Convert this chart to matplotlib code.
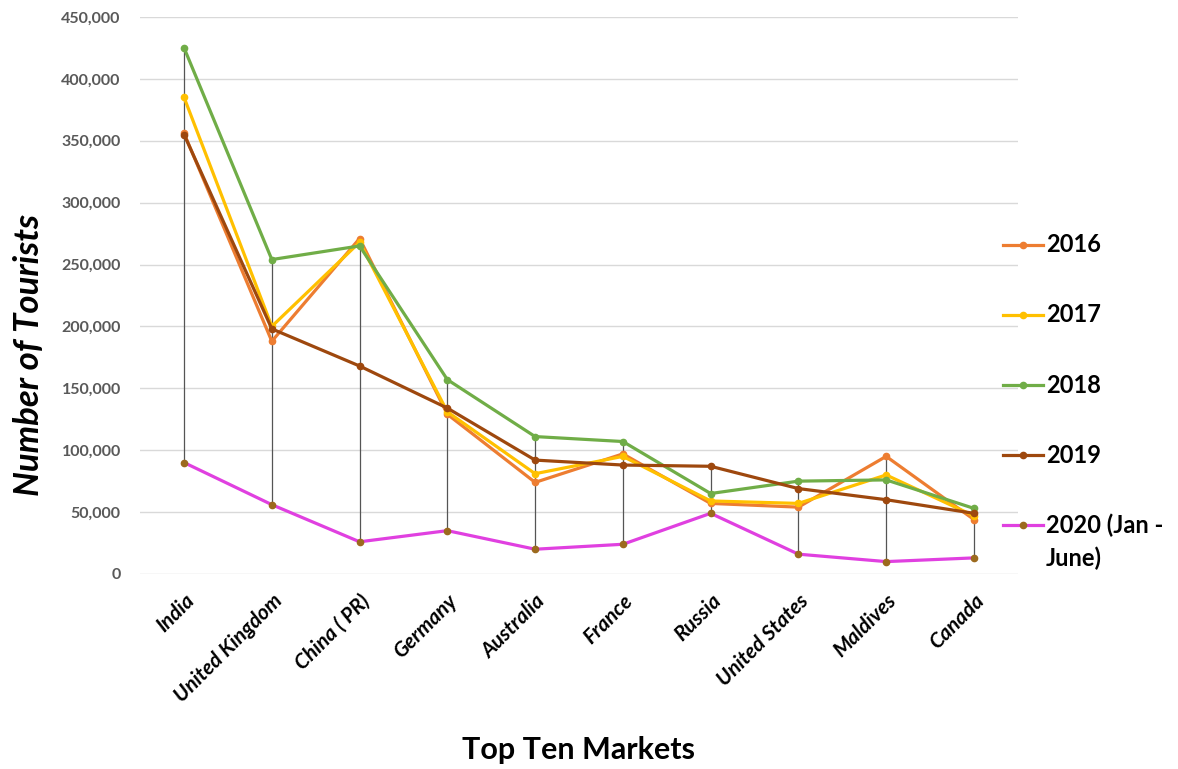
import matplotlib
matplotlib.use("Agg")
import matplotlib.pyplot as plt
from matplotlib.lines import Line2D
from matplotlib.ticker import FuncFormatter

plt.rcParams['font.family'] = ['Lato', 'DejaVu Sans']

markets = ["India", "United Kingdom", "China ( PR)", "Germany", "Australia",
           "France", "Russia", "United States", "Maldives", "Canada"]

y2016 = [356000, 188000, 271000, 129000, 74000, 97000, 57000, 54000, 95000, 44000]
y2017 = [385000, 200000, 268000, 131000, 81000, 95000, 59000, 57000, 80000, 47000]
y2018 = [425000, 254000, 265000, 157000, 111000, 107000, 65000, 75000, 76000, 53000]
y2019 = [355000, 198000, 168000, 134000, 92000, 88000, 87000, 69000, 60000, 49000]
y2020 = [90000, 56000, 26000, 35000, 20000, 24000, 49000, 16000, 10000, 13000]

labels = ["2016", "2017", "2018", "2019", "2020 (Jan -\nJune)"]
series = [y2016, y2017, y2018, y2019, y2020]
line_colors = ["#ED7D31", "#FFC000", "#70AD47", "#9E480E", "#E040E0"]
marker_colors = ["#ED7D31", "#FFC000", "#70AD47", "#9E480E", "#9C6A1E"]

fig = plt.figure(figsize=(11.78, 7.69), dpi=100)
ax = fig.add_axes([0.119, 0.2536, 0.745, 0.7244])

x = list(range(len(markets)))

# high-low lines
highs = [max(v) for v in zip(*series)]
lows = [min(v) for v in zip(*series)]
ax.vlines(x, lows, highs, colors="#555555", linewidth=0.9, zorder=2)

for vals, lc, mc in zip(series, line_colors, marker_colors):
    ax.plot(x, vals, color=lc, linewidth=2.3, marker='o', markersize=4.5,
            markerfacecolor=mc, markeredgecolor=mc, zorder=3)

ax.set_xlim(-0.5, len(markets) - 0.5)
ax.set_ylim(0, 450000)
ax.set_yticks(range(0, 450001, 50000))
ax.yaxis.set_major_formatter(FuncFormatter(lambda v, p: f"{int(v):,}"))
ax.grid(axis='y', color="#D9D9D9", linewidth=1.0)
ax.set_axisbelow(True)
for s in ax.spines.values():
    s.set_visible(False)
ax.tick_params(axis='both', length=0)
ax.tick_params(axis='y', labelsize=11.5, labelcolor="#595959", pad=14)
for t in ax.get_yticklabels():
    t.set_fontweight('bold')

ax.set_xticks(x)
ax.set_xticklabels(markets, rotation=45, ha='right', rotation_mode='anchor',
                   fontsize=15, fontweight='bold', fontstyle='italic', color="#000000")
ax.tick_params(axis='x', pad=12)

ax.set_ylabel("Number of Tourists", fontsize=25, fontweight='bold',
              fontstyle='italic')
ax.yaxis.set_label_coords(-0.108, 0.393)
ax.set_xlabel("Top Ten Markets", fontsize=22, fontweight='bold')
ax.xaxis.set_label_coords(0.5, -0.29)

# legend drawn on the right side
W, H = 1178.0, 769.0
leg_y = [245, 315, 385, 455, 525]
for lab, lc, mc, yy in zip(labels, line_colors, marker_colors, leg_y):
    fy = 1 - yy / H
    fig.add_artist(Line2D([1003 / W, 1043 / W], [fy, fy], color=lc, linewidth=2.3,
                          transform=fig.transFigure))
    fig.add_artist(Line2D([1023 / W], [fy], color=mc, marker='o', markersize=4.5,
                          transform=fig.transFigure))
    for i, ln in enumerate(lab.split("\n")):
        fig.text(1046 / W, 1 - (yy + i * 33) / H, ln, fontsize=17, fontweight='bold',
                 va='center', ha='left', color="#000000")

fig.savefig("out.png", dpi=100)
